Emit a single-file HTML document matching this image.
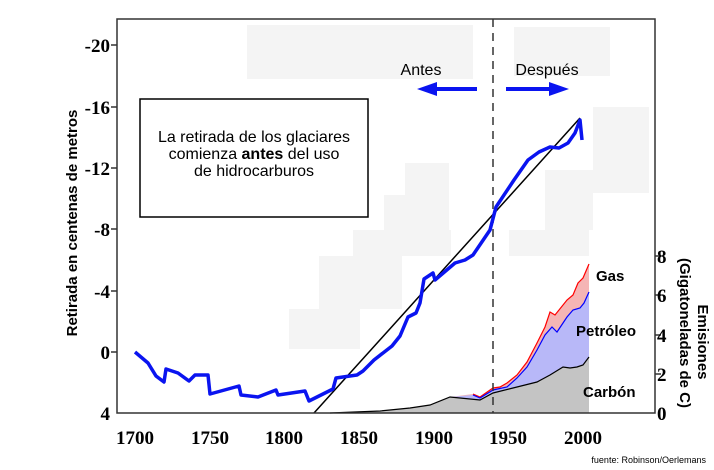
<!DOCTYPE html>
<html><head><meta charset="utf-8"><style>body{margin:0;background:#fff}svg{display:block}</style></head><body>
<svg width="714" height="470" viewBox="0 0 714 470" xmlns="http://www.w3.org/2000/svg">
<g fill="#f4f4f4">
<rect x="247" y="25" width="226" height="54"/><rect x="514" y="27" width="96" height="49"/>
<rect x="593" y="107" width="56" height="86"/><rect x="405" y="163" width="44" height="35"/>
<rect x="384" y="195" width="65" height="40"/><rect x="353" y="230" width="98" height="26"/>
<rect x="319" y="256" width="83" height="53"/><rect x="289" y="309" width="71" height="40"/>
<rect x="509" y="230" width="80" height="26"/><rect x="545" y="170" width="48" height="60"/>
</g>
<polygon fill="#f5b5b5" points="330,413 380,411 410,408 430,405 450,397 473,394 480,397 493,388 500,387 507,383 517,375 527,362 537,343 545,327 550,312 555,315 567,300 573,295 578,283 583,278 589,264 589,413"/>
<polygon fill="#b8b8f8" points="330,413 380,411 410,408 430,405 450,397 473,395 480,398 493,390 507,387 517,378 527,367 537,350 545,335 552,327 557,332 567,317 573,310 580,308 584,303 589,292 589,413"/>
<polygon fill="#c4c4c4" points="330,413 380,411 410,408 430,405 450,397 480,400 493,393 513,388 537,382 550,375 563,367 570,368 577,367 583,365 589,357 589,413"/>
<polyline fill="none" stroke="#f00" stroke-width="1.2" points="473,394 480,397 493,388 500,387 507,383 517,375 527,362 537,343 545,327 550,312 555,315 567,300 573,295 578,283 583,278 589,264"/>
<polyline fill="none" stroke="#00f" stroke-width="1.2" points="473,395 480,398 493,390 507,387 517,378 527,367 537,350 545,335 552,327 557,332 567,317 573,310 580,308 584,303 589,292"/>
<polyline fill="none" stroke="#000" stroke-width="1.2" points="330,413 380,411 410,408 430,405 450,397 480,400 493,393 513,388 537,382 550,375 563,367 570,368 577,367 583,365 589,357"/>
<line x1="493" y1="19" x2="493" y2="413" stroke="#333" stroke-width="1.5" stroke-dasharray="8,6"/>
<line x1="314" y1="413" x2="580" y2="118" stroke="#000" stroke-width="1.5"/>
<polyline fill="none" stroke="#0a14f0" stroke-width="3.5" stroke-linejoin="round" points="135,352 148,363 156,376 164,382 166,369 178,373 189,381 195,375 208,375 210,394 239,386 241,395 258,397 276,390 278,395 305,391 309,401 321,395 333,389 336,378 357,375 363,371 374,360 392,346 400,336 408,317 416,313 420,303 424,279 433,273 435,280 455,263 465,260 473,255 490,230 496,207 514,180 528,160 539,152 550,147 559,148 568,143 575,133 580,120 582,140"/>
<rect x="117" y="19" width="538" height="394" fill="none" stroke="#333" stroke-width="1.5"/>
<rect x="140" y="99" width="228" height="118" fill="#fff" stroke="#000" stroke-width="1.5"/>
<g font-family="Liberation Sans,sans-serif" font-size="16" text-anchor="middle" fill="#000">
<text x="254" y="142">La retirada de los glaciares</text>
<text x="254" y="159">comienza <tspan font-weight="bold">antes</tspan> del uso</text>
<text x="254" y="176">de hidrocarburos</text>
<text x="421" y="75">Antes</text><text x="547" y="75">Después</text>
</g>
<g fill="#0a14f0"><rect x="430" y="87" width="47" height="4"/><polygon points="417,89 437,82 437,96"/>
<rect x="506" y="87" width="50" height="4"/><polygon points="569,89 549,82 549,96"/></g>
<g font-family="Liberation Sans,sans-serif" font-size="15" font-weight="bold">
<text x="596" y="281">Gas</text><text x="576" y="336">Petróleo</text><text x="583" y="397">Carbón</text>
</g>
<g stroke="#333" stroke-width="1.5">
<line x1="111" y1="45" x2="117" y2="45"/><line x1="111" y1="107" x2="117" y2="107"/><line x1="111" y1="168" x2="117" y2="168"/><line x1="111" y1="229" x2="117" y2="229"/><line x1="111" y1="291" x2="117" y2="291"/><line x1="111" y1="352" x2="117" y2="352"/>
<line x1="655" y1="256" x2="661" y2="256"/><line x1="655" y1="295" x2="661" y2="295"/><line x1="655" y1="335" x2="661" y2="335"/><line x1="655" y1="374" x2="661" y2="374"/>
</g>
<g font-family="Liberation Serif,serif" font-size="19" font-weight="bold" text-anchor="end">
<text x="110" y="52">-20</text><text x="110" y="114">-16</text><text x="110" y="175">-12</text><text x="110" y="236">-8</text><text x="110" y="298">-4</text><text x="110" y="359">0</text><text x="110" y="420">4</text>
</g>
<g font-family="Liberation Serif,serif" font-size="19" font-weight="bold">
<text x="657" y="263">8</text><text x="657" y="302">6</text><text x="657" y="342">4</text><text x="657" y="381">2</text><text x="657" y="420">0</text>
</g>
<g font-family="Liberation Serif,serif" font-size="19" font-weight="bold" text-anchor="middle">
<text x="135" y="444">1700</text><text x="210" y="444">1750</text><text x="284" y="444">1800</text><text x="359" y="444">1850</text><text x="434" y="444">1900</text><text x="508" y="444">1950</text><text x="583" y="444">2000</text>
</g>
<g font-family="Liberation Sans,sans-serif" font-size="15" font-weight="bold" text-anchor="middle">
<text transform="translate(77,223) rotate(-90)">Retirada en centenas de metros</text>
<text transform="translate(698,342) rotate(90)">Emisiones</text>
<text transform="translate(680,333) rotate(90)">(Gigatoneladas  de C)</text>
</g>
<text x="706" y="463" font-family="Liberation Sans,sans-serif" font-size="9" text-anchor="end">fuente: Robinson/Oerlemans</text>
</svg>
</body></html>
